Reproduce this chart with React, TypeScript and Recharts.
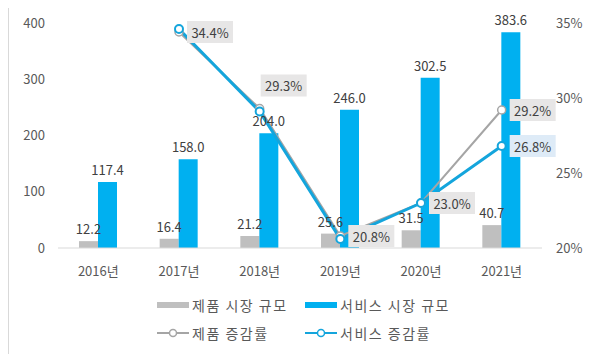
import React from "react";
import { ComposedChart, Bar, Line, XAxis, YAxis, LabelList } from "recharts";

const years = ["2016년", "2017년", "2018년", "2019년", "2020년", "2021년"];
const productSize = [12.2, 16.4, 21.2, 25.6, 31.5, 40.7];
const serviceSize = [117.4, 158.0, 204.0, 246.0, 302.5, 383.6];
const productGrowth = [null, 34.4, 29.3, 20.8, 23.0, 29.2];
const serviceGrowth = [null, 34.6, 29.1, 20.6, 23.0, 26.8];

const leftTicks = [0, 100, 200, 300, 400];
const rightTicks = [20, 25, 30, 35];

const GRAY = "#bfbfbf";
const BLUE = "#00b0f0";
const GRAY_LINE = "#a5a5a5";
const BLUE_LINE = "#14a5dc";
const TEXT = "#404040";
const FONT = "'Noto Sans CJK KR', 'Noto Sans', sans-serif";

const data = years.map((year, i) => ({
  year,
  product: productSize[i],
  service: serviceSize[i],
  productGrowth: productGrowth[i],
  serviceGrowth: serviceGrowth[i],
}));

// hand-placed label nudges (like Excel's dragged labels)
const labelShift: Record<number, { dx: number; dy: number }> = {
  2: { dx: -7, dy: -23 },
};

function makeGrowthLabel(boxFill: string, onlyIndex?: number) {
  return (props: any) => {
    const { x, y, value, index } = props;
    if (value == null) return null;
    if (onlyIndex !== undefined && index !== onlyIndex) return null;
    const shift = labelShift[index] && onlyIndex === undefined ? labelShift[index] : { dx: 0, dy: 0 };
    const bx = x + 8 + shift.dx;
    const by = y - 11 + shift.dy;
    return (
      <g>
        <rect x={bx} y={by} width={46} height={22} fill={boxFill} />
        <text
          x={bx + 23}
          y={by + 11}
          textAnchor="middle"
          dominantBaseline="central"
          fontSize={13}
          fill={TEXT}
        >
          {Number(value).toFixed(1)}%
        </text>
      </g>
    );
  };
}

function LegendRow({ items }: { items: { label: string; color: string; kind: "bar" | "line" }[] }) {
  return (
    <div style={{ display: "flex", height: 28, alignItems: "center" }}>
      {items.map((it, i) => (
        <div key={it.label} style={{ display: "flex", alignItems: "center", width: i === 0 ? 148 : undefined }}>
          <svg width={32} height={12} style={{ marginRight: 3 }}>
            {it.kind === "bar" ? (
              <rect x={0} y={3} width={32} height={6} fill={it.color} />
            ) : (
              <g>
                <line x1={0} y1={6} x2={32} y2={6} stroke={it.color} strokeWidth={2} />
                <circle cx={16} cy={6} r={3.5} fill="#fff" stroke={it.color} strokeWidth={1.5} />
              </g>
            )}
          </svg>
          <span style={{ fontSize: 14, color: "#595959", letterSpacing: 1.5 }}>{it.label}</span>
        </div>
      ))}
    </div>
  );
}

export default function App() {
  return (
    <div style={{ position: "relative", width: 600, height: 362, margin: -8, fontFamily: FONT, background: "#fff" }}>
      <div
        style={{
          position: "absolute",
          left: 8,
          top: 5,
          width: 584,
          height: 349,
          border: "1px solid #d9d9d9",
        }}
      />
      <div style={{ position: "absolute", left: 0, top: 0 }}>
        <ComposedChart
          width={600}
          height={362}
          data={data}
          margin={{ top: 23, right: 0, bottom: 0, left: 0 }}
          barGap={0}
          style={{ fontFamily: FONT }}
        >
          <XAxis
            dataKey="year"
            height={114}
            tickLine={false}
            tickSize={0}
            tickMargin={19}
            axisLine={{ stroke: "#d9d9d9" }}
            tick={{ fill: "#595959", fontSize: 13 }}
          />
          <YAxis
            yAxisId="left"
            width={58}
            domain={[0, 400]}
            ticks={leftTicks}
            axisLine={false}
            tickLine={false}
            tickSize={0}
            tickMargin={13}
            tick={{ fill: "#595959", fontSize: 13 }}
          />
          <YAxis
            yAxisId="right"
            orientation="right"
            width={58}
            domain={[20, 35]}
            ticks={rightTicks}
            axisLine={false}
            tickLine={false}
            tickSize={0}
            tickMargin={14}
            tickFormatter={(v: number) => `${v}%`}
            tick={{ fill: "#595959", fontSize: 13 }}
          />
          <Bar yAxisId="left" dataKey="product" fill={GRAY} barSize={19} isAnimationActive={false}>
            <LabelList
              dataKey="product"
              position="top"
              offset={7}
              fill={TEXT}
              fontSize={13}
              formatter={(v: any) => Number(v).toFixed(1)}
            />
          </Bar>
          <Bar yAxisId="left" dataKey="service" fill={BLUE} barSize={19} isAnimationActive={false}>
            <LabelList
              dataKey="service"
              position="top"
              offset={7}
              fill={TEXT}
              fontSize={13}
              formatter={(v: any) => Number(v).toFixed(1)}
            />
          </Bar>
          <Line
            yAxisId="right"
            type="linear"
            dataKey="productGrowth"
            stroke={GRAY_LINE}
            strokeWidth={2}
            dot={{ r: 4, fill: "#fff", stroke: GRAY_LINE, strokeWidth: 1.5 }}
            isAnimationActive={false}
          />
          <Line
            yAxisId="right"
            type="linear"
            dataKey="serviceGrowth"
            stroke={BLUE_LINE}
            strokeWidth={3}
            dot={{ r: 4, fill: "#fff", stroke: BLUE_LINE, strokeWidth: 2 }}
            isAnimationActive={false}
          >
            <LabelList dataKey="serviceGrowth" content={makeGrowthLabel("#deebf7", 5)} />
          </Line>
          <Line
            yAxisId="right"
            type="linear"
            dataKey="productGrowth"
            stroke="none"
            dot={false}
            activeDot={false}
            legendType="none"
            isAnimationActive={false}
          >
            <LabelList dataKey="productGrowth" content={makeGrowthLabel("#e7e6e6")} />
          </Line>
        </ComposedChart>
      </div>
      <div style={{ position: "absolute", left: 157, top: 291 }}>
        <LegendRow
          items={[
            { label: "제품 시장 규모", color: GRAY, kind: "bar" },
            { label: "서비스 시장 규모", color: BLUE, kind: "bar" },
          ]}
        />
        <LegendRow
          items={[
            { label: "제품 증감률", color: GRAY_LINE, kind: "line" },
            { label: "서비스 증감률", color: BLUE_LINE, kind: "line" },
          ]}
        />
      </div>
    </div>
  );
}
